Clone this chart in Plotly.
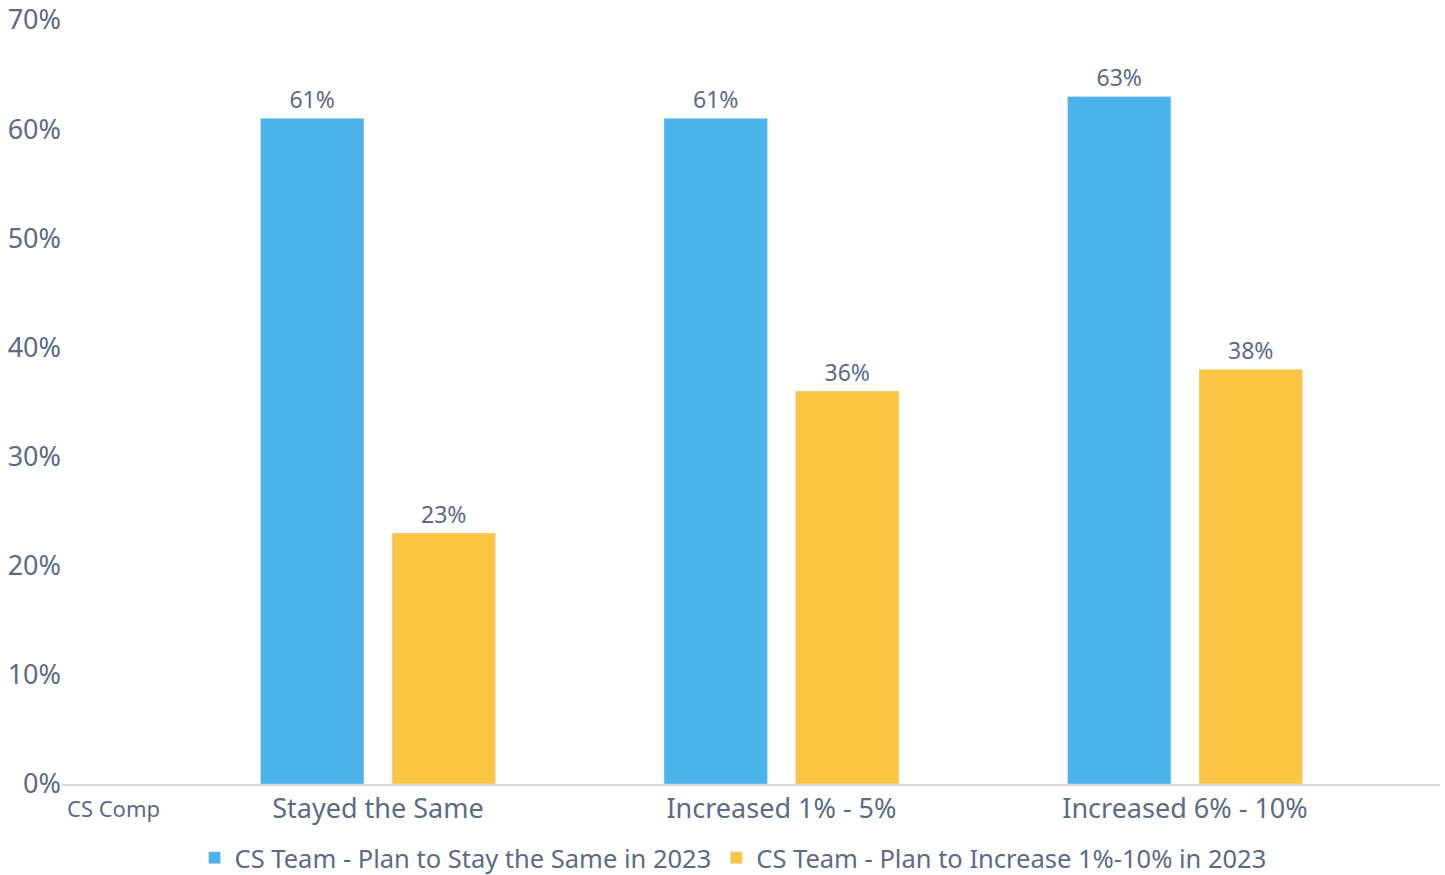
import plotly.graph_objects as go

categories = ["Stayed the Same", "Increased 1% - 5%", "Increased 6% - 10%"]
series_names = ["CS Team - Plan to Stay the Same in 2023", "CS Team - Plan to Increase 1%-10% in 2023"]
stay_same = [61, 61, 63]
increase = [23, 36, 38]
y_ticks = [0, 10, 20, 30, 40, 50, 60, 70]
y_tick_labels = [f"{v}%" for v in y_ticks]

FONT = "Noto Sans"
TXT = "#5b6b85"
colors = ["#4AB3EA", "#FBC543"]

fig = go.Figure()
for name, vals, col in zip(series_names, [stay_same, increase], colors):
    fig.add_trace(go.Bar(
        x=categories, y=vals, name=name, marker_color=col,
        text=[f"{v}%" for v in vals], textposition="outside",
        textfont=dict(family=FONT, size=23, color=TXT),
        cliponaxis=False,
    ))

fig.update_layout(
    width=1445, height=875,
    margin=dict(l=62, r=5, t=20, b=91, autoexpand=False),
    plot_bgcolor="white", paper_bgcolor="white",
    barmode="group", bargap=0.348, bargroupgap=0.213,
    font=dict(family=FONT, color=TXT),
    showlegend=True,
    legend=dict(orientation="h", x=0.487, xanchor="center", y=-0.097, yanchor="middle",
                font=dict(family=FONT, size=25.5, color=TXT), itemwidth=30,
                traceorder="normal"),
    xaxis=dict(range=[-0.783, 2.632], showline=True, linecolor="#d9d9d9", linewidth=2,
               showgrid=False, ticks="", automargin=False,
               tickfont=dict(family=FONT, size=27, color=TXT)),
    yaxis=dict(range=[0, 70], tickvals=y_ticks, ticktext=y_tick_labels, showgrid=False,
               zeroline=False, ticks="", automargin=False,
               tickfont=dict(family=FONT, size=27, color=TXT)),
    annotations=[dict(text="CS Comp", x=0.002, xref="paper", xanchor="left",
                      y=-0.0314, yref="paper", yanchor="middle", showarrow=False,
                      font=dict(family=FONT, size=22, color=TXT))],
)

fig.write_html("out.html", config={"displayModeBar": False},
               post_script="document.body.style.margin='0';document.body.style.overflow='hidden';")
